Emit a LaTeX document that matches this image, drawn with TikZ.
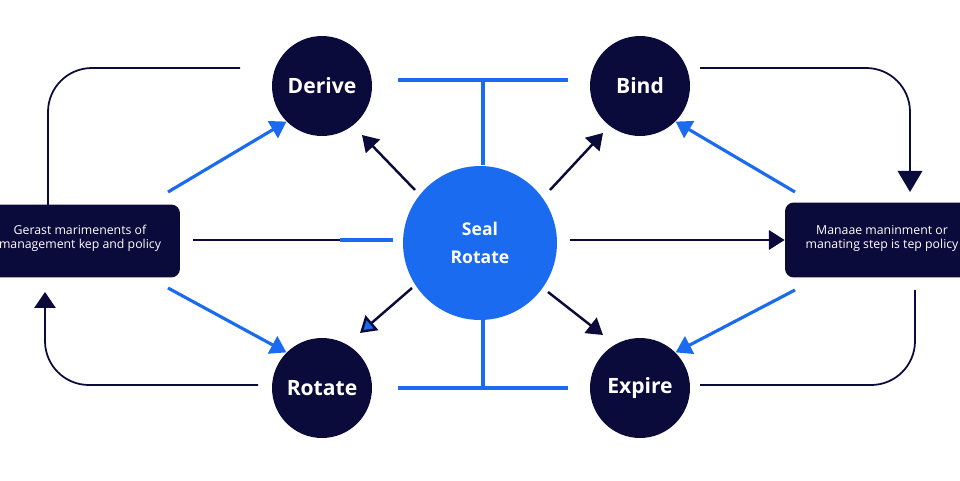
\documentclass[tikz,border=0pt]{standalone}
\usepackage{fontspec}
\setmainfont{Open Sans}
\usetikzlibrary{arrows.meta}
\definecolor{navy}{HTML}{0B0B3B}
\definecolor{azure}{HTML}{1A6BF0}

\begin{document}
\begin{tikzpicture}[x=0.02cm,y=-0.02cm,
  stage/.style={circle,fill=navy,minimum size=2cm,text=white,font=\bfseries\large},
  hub/.style={circle,fill=azure,minimum size=3.08cm,text=white,font=\bfseries,align=center},
  panel/.style={rounded corners=5pt,fill=navy},
  caption/.style={text=white,font=\scriptsize,align=center,inner sep=0pt},
  tip/.style={-{Triangle[length=9pt,width=11pt]}},
  blueline/.style={azure,line width=1.8pt},
  darkline/.style={navy,line width=1.4pt}]
\useasboundingbox (0,0) rectangle (960,480);

\begin{scope}
    \node[stage] (derive) at (322,86) {Derive};
    \node[stage] (bind) at (640,86) {Bind};
    \node[stage] (rotate) at (322,388) {Rotate};
    \node[stage] (expire) at (640,388) {Expire};
    \node[hub] (seal) at (480,243) {Seal\\[4pt]Rotate};
\end{scope}
\node[panel,minimum width=4.2cm,minimum height=1.46cm] (left) at (75,241) {};
\node[caption] (lefttext) at (80,238) {Gerast marimenents of\\management kep and policy};
\node[panel,minimum width=4.2cm,minimum height=1.5cm] (right) at (890,240) {};
\node[caption] (righttext) at (882,238) {Manaae maninment or\\manating step is tep policy};

\coordinate (tl) at (398,80);
\coordinate (tr) at (568,80);
\coordinate (tm) at (483,80);
\coordinate (tb) at (483,165);
\coordinate (bl) at (398,388);
\coordinate (br) at (568,388);
\coordinate (bm) at (483,388);
\coordinate (bt) at (483,320);
\draw[blueline] (tl) -- (tr);
\draw[blueline] (tm) -- (tb);
\draw[blueline] (bl) -- (br);
\draw[blueline] (bm) -- (bt);

% middle row
\coordinate (ml) at (193,240);
\coordinate (mm) at (340,240);
\coordinate (mr) at (393,240);
\coordinate (nl) at (570,240);
\draw[darkline] (ml) -- (mm);
\draw[blueline] (mm) -- (mr);
\draw[darkline,tip] (nl) -- (right.west);

% blue arrows
\coordinate (a1) at (168,192);
\coordinate (a2) at (168,288);
\coordinate (a3) at (795,192);
\coordinate (a4) at (795,290);
\draw[blueline,tip] (a1) -- (derive.south west);
\draw[blueline,tip] (a2) -- (rotate.north west);
\draw[blueline,tip] (a3) -- (bind.south east);
\draw[blueline,tip] (a4) -- (expire.north east);

% spokes from hub
\coordinate (s1) at (415,190);
\coordinate (s2) at (550,190);
\coordinate (s3) at (412,288);
\coordinate (s4) at (548,292);
\draw[darkline,tip] (s1) -- (362,135);
\draw[darkline,tip] (s2) -- (603,133);
\draw[darkline,-{Triangle[length=9pt,width=11pt,fill=azure]}] (s3) -- (360,333);
\draw[darkline,tip] (s4) -- (603,335);

% outer loops
\coordinate (o1) at (240,68);
\coordinate (o2) at (48,205);
\coordinate (o3) at (45,292);
\coordinate (o4) at (258,385);
\coordinate (o5) at (700,68);
\coordinate (o6) at (910,192);
\coordinate (o7) at (915,290);
\coordinate (o8) at (700,385);
\draw[navy,line width=1pt,rounded corners=25pt] (o1) -| (o2);
\draw[navy,line width=1pt,rounded corners=25pt,{Triangle[length=9pt,width=12pt]}-] (o3) |- (o4);
\draw[navy,line width=1pt,rounded corners=25pt,-{Triangle[length=12pt,width=14pt]}] (o5) -| (o6);
\draw[navy,line width=1pt,rounded corners=25pt] (o7) |- (o8);
\end{tikzpicture}
\end{document}
